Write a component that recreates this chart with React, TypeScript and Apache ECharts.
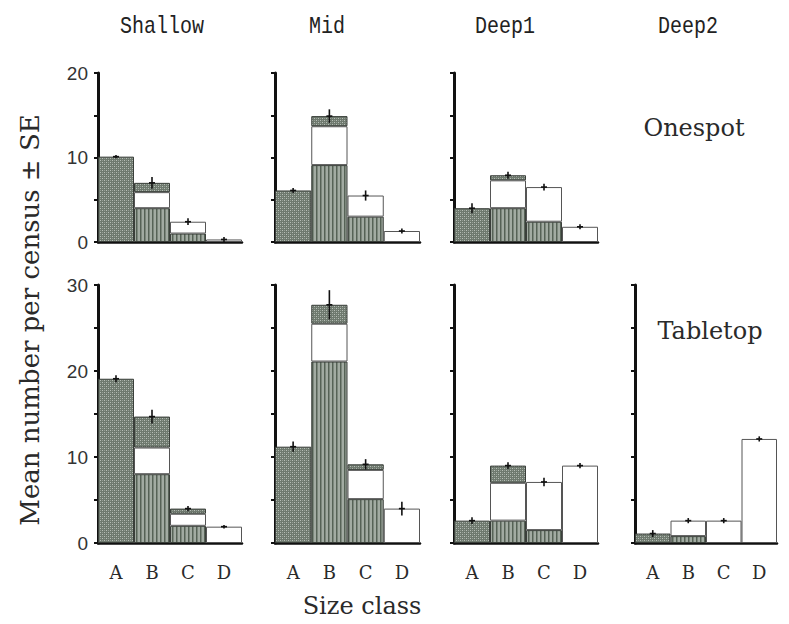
import React, { useEffect, useRef } from "react";
import * as echarts from "echarts";

const categories = ["A", "B", "C", "D"];
const columnTitles = ["Shallow", "Mid", "Deep1", "Deep2"];
const rowLabels = ["Onespot", "Tabletop"];
const yTitle = "Mean number per census \u00b1 SE";
const xTitle = "Size class";

// Onespot (top row) — stacked: striped (bottom), white (middle), stippled (top)
const onespotShallowStriped = [0, 4.0, 1.0, 0];
const onespotShallowWhite = [0, 1.9, 1.4, 0.3];
const onespotShallowStippled = [10.1, 1.1, 0, 0];
const onespotShallowSE = [0.2, 0.7, 0.4, 0.3];

const onespotMidStriped = [0, 9.1, 3.0, 0];
const onespotMidWhite = [0, 4.6, 2.5, 1.3];
const onespotMidStippled = [6.1, 1.2, 0, 0];
const onespotMidSE = [0.3, 0.8, 0.6, 0.3];

const onespotDeep1Striped = [0, 4.0, 2.4, 0];
const onespotDeep1White = [0, 3.3, 4.1, 1.8];
const onespotDeep1Stippled = [4.0, 0.6, 0, 0];
const onespotDeep1SE = [0.6, 0.4, 0.4, 0.3];

// Tabletop (bottom row)
const tabletopShallowStriped = [0, 8.0, 2.0, 0];
const tabletopShallowWhite = [0, 3.1, 1.4, 1.9];
const tabletopShallowStippled = [19.1, 3.6, 0.6, 0];
const tabletopShallowSE = [0.4, 0.8, 0.3, 0.2];

const tabletopMidStriped = [0, 21.1, 5.1, 0];
const tabletopMidWhite = [0, 4.4, 3.4, 4.0];
const tabletopMidStippled = [11.2, 2.2, 0.65, 0];
const tabletopMidSE = [0.6, 1.7, 0.6, 0.8];

const tabletopDeep1Striped = [0, 2.6, 1.5, 0];
const tabletopDeep1White = [0, 4.4, 5.6, 9.0];
const tabletopDeep1Stippled = [2.6, 2.0, 0, 0];
const tabletopDeep1SE = [0.4, 0.4, 0.5, 0.3];

const tabletopDeep2Striped = [0, 0.8, 0, 0];
const tabletopDeep2White = [0, 1.8, 2.6, 12.1];
const tabletopDeep2Stippled = [1.1, 0, 0, 0];
const tabletopDeep2SE = [0.4, 0.3, 0.3, 0.3];

const topAxisMax = 20;
const bottomAxisMax = 30;
const axisInterval = 5;

const panels = [
  { row: 0, col: 0, striped: onespotShallowStriped, white: onespotShallowWhite, stippled: onespotShallowStippled, se: onespotShallowSE },
  { row: 0, col: 1, striped: onespotMidStriped, white: onespotMidWhite, stippled: onespotMidStippled, se: onespotMidSE },
  { row: 0, col: 2, striped: onespotDeep1Striped, white: onespotDeep1White, stippled: onespotDeep1Stippled, se: onespotDeep1SE },
  { row: 1, col: 0, striped: tabletopShallowStriped, white: tabletopShallowWhite, stippled: tabletopShallowStippled, se: tabletopShallowSE },
  { row: 1, col: 1, striped: tabletopMidStriped, white: tabletopMidWhite, stippled: tabletopMidStippled, se: tabletopMidSE },
  { row: 1, col: 2, striped: tabletopDeep1Striped, white: tabletopDeep1White, stippled: tabletopDeep1Stippled, se: tabletopDeep1SE },
  { row: 1, col: 3, striped: tabletopDeep2Striped, white: tabletopDeep2White, stippled: tabletopDeep2Stippled, se: tabletopDeep2SE },
];

const colLefts = [98, 275, 454, 635];
const colWidths = [144, 145, 144, 142];
const rowTops = [73, 285];
const rowHeights = [169, 258];

function makeStipple(): HTMLCanvasElement {
  const c = document.createElement("canvas");
  c.width = 4;
  c.height = 4;
  const ctx = c.getContext("2d")!;
  ctx.fillStyle = "#6e796e";
  ctx.fillRect(0, 0, 4, 4);
  ctx.fillStyle = "#b7beb7";
  ctx.fillRect(0, 0, 1, 1);
  ctx.fillRect(2, 2, 1, 1);
  ctx.fillStyle = "#949d94";
  ctx.fillRect(2, 0, 1, 1);
  ctx.fillRect(0, 2, 1, 1);
  return c;
}

function makeStripes(): HTMLCanvasElement {
  const c = document.createElement("canvas");
  c.width = 4;
  c.height = 4;
  const ctx = c.getContext("2d")!;
  ctx.fillStyle = "#a2aba2";
  ctx.fillRect(0, 0, 4, 4);
  ctx.fillStyle = "#566256";
  ctx.fillRect(0, 0, 1, 4);
  ctx.fillStyle = "#7c877c";
  ctx.fillRect(1, 0, 1, 4);
  return c;
}

const nz = (arr: number[]) => arr.map((v) => (v === 0 ? null : v));

export default function App() {
  const ref = useRef<HTMLDivElement>(null);
  useEffect(() => {
    if (!ref.current) return;
    const chart = echarts.init(ref.current, undefined, { renderer: "svg" });
    const stipple = { image: makeStipple(), repetition: "repeat" };
    const stripes = { image: makeStripes(), repetition: "repeat" };

    const grids: any[] = [];
    const xAxes: any[] = [];
    const yAxes: any[] = [];
    const series: any[] = [];

    panels.forEach((p, i) => {
      const max = p.row === 0 ? topAxisMax : bottomAxisMax;
      grids.push({
        left: colLefts[p.col],
        top: rowTops[p.row],
        width: colWidths[p.col],
        height: rowHeights[p.row],
        containLabel: false,
      });
      xAxes.push({
        type: "category",
        gridIndex: i,
        data: categories,
        boundaryGap: true,
        axisLine: { show: true, lineStyle: { color: "#111", width: 2.5 } },
        axisTick: { show: false },
        axisLabel: {
          show: p.row === 1,
          color: "#2a2a2a",
          fontFamily: "DejaVu Serif",
          fontSize: 18,
          margin: 20,
        },
        splitLine: { show: false },
      });
      yAxes.push({
        type: "value",
        gridIndex: i,
        min: 0,
        max,
        interval: axisInterval,
        axisLine: { show: true, lineStyle: { color: "#111", width: 3 } },
        axisTick: { show: true, inside: false, length: 4, lineStyle: { color: "#111", width: 2 } },
        axisLabel: {
          show: p.col === 0,
          color: "#333",
          fontFamily: "Liberation Sans",
          fontSize: 19,
          margin: 10,
          formatter: (v: number) => (v % 10 === 0 ? String(v) : ""),
        },
        splitLine: { show: false },
      });
      const stackId = "s" + i;
      const common = {
        type: "bar",
        xAxisIndex: i,
        yAxisIndex: i,
        stack: stackId,
        barCategoryGap: "0%",
        barGap: "0%",
      };
      series.push({
        ...common,
        name: "striped",
        data: nz(p.striped),
        itemStyle: { color: stripes, borderColor: "#3a3f3a", borderWidth: 1 },
      });
      series.push({
        ...common,
        name: "white",
        data: nz(p.white),
        itemStyle: { color: "#ffffff", borderColor: "#555", borderWidth: 1 },
      });
      series.push({
        ...common,
        name: "stippled",
        data: nz(p.stippled),
        itemStyle: { color: stipple, borderColor: "#3a3f3a", borderWidth: 1 },
      });
      const errData = categories.map((_, k) => [
        k,
        p.striped[k] + p.white[k] + p.stippled[k],
        p.se[k],
      ]);
      series.push({
        type: "custom",
        xAxisIndex: i,
        yAxisIndex: i,
        z: 5,
        data: errData,
        encode: { x: 0, y: 1 },
        renderItem: (params: any, api: any) => {
          const x = api.value(0);
          const t = api.value(1);
          const se = api.value(2);
          const lo = api.coord([x, t - se]);
          const hi = api.coord([x, t + se]);
          const mid = api.coord([x, t]);
          return {
            type: "group",
            children: [
              {
                type: "line",
                shape: { x1: lo[0], y1: lo[1], x2: hi[0], y2: hi[1] },
                style: { stroke: "#111", lineWidth: 1.6 },
              },
              {
                type: "line",
                shape: { x1: mid[0] - 3, y1: mid[1], x2: mid[0] + 3, y2: mid[1] },
                style: { stroke: "#111", lineWidth: 1.6 },
              },
            ],
          };
        },
      });
    });

    const titleCenters = [162, 327, 505, 688];
    const graphic: any[] = [];
    columnTitles.forEach((t, k) => {
      graphic.push({
        type: "text",
        x: titleCenters[k],
        y: 27,
        scaleY: 1.2,
        style: {
          text: t,
          font: "20px 'Liberation Mono'",
          fill: "#222",
          textAlign: "center",
          textVerticalAlign: "middle",
        },
      });
    });
    const serifFont = "24px 'DejaVu Serif'";
    graphic.push({
      type: "text",
      x: 694,
      y: 128,
      style: {
        text: rowLabels[0],
        font: serifFont,
        fill: "#2a2a2a",
        textAlign: "center",
        textVerticalAlign: "middle",
      },
    });
    graphic.push({
      type: "text",
      x: 710,
      y: 331,
      style: {
        text: rowLabels[1],
        font: serifFont,
        fill: "#2a2a2a",
        textAlign: "center",
        textVerticalAlign: "middle",
      },
    });
    graphic.push({
      type: "text",
      x: 30,
      y: 320,
      rotation: Math.PI / 2,
      style: {
        text: yTitle,
        font: "26px 'DejaVu Serif'",
        fill: "#2a2a2a",
        textAlign: "center",
        textVerticalAlign: "middle",
      },
    });
    graphic.push({
      type: "text",
      x: 362,
      y: 606,
      style: {
        text: xTitle,
        font: serifFont,
        fill: "#2a2a2a",
        textAlign: "center",
        textVerticalAlign: "middle",
      },
    });

    chart.setOption({
      animation: false,
      backgroundColor: "#ffffff",
      grid: grids,
      xAxis: xAxes,
      yAxis: yAxes,
      series,
      graphic,
    });
    return () => chart.dispose();
  }, []);
  return <div ref={ref} style={{ width: 789, height: 624, position: "absolute", left: 0, top: 0 }} />;
}
